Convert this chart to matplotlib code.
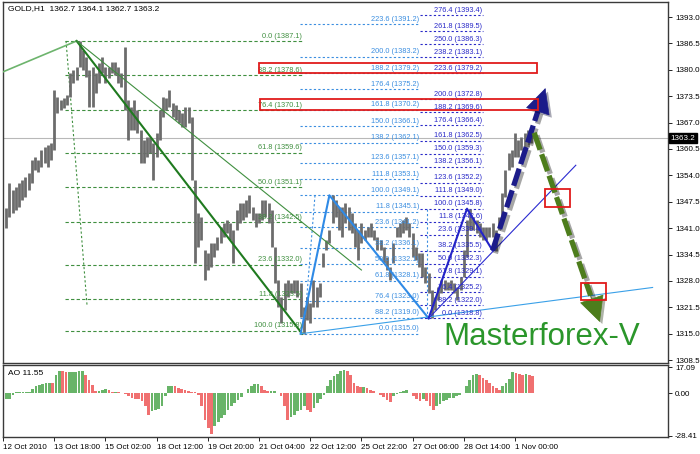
import matplotlib
matplotlib.use("Agg")
import matplotlib.pyplot as plt
import matplotlib.patheffects as pe
import matplotlib.transforms as mtransforms
from matplotlib.patches import Rectangle
import numpy as np

plt.rcParams["font.family"] = ["Liberation Sans", "DejaVu Sans"]

# GOLD H1 price bars (one entry per two hourly bars)
highs = [
    1346.0, 1352.1, 1350.4, 1351.1, 1352.1, 1352.9, 1353.6, 1354.6, 1357.8, 1358.5,
    1357.8, 1360.2, 1361.0, 1361.5, 1362.0, 1375.0, 1373.3, 1372.6, 1373.0, 1373.8,
    1379.2, 1379.9, 1380.7, 1387.1, 1384.9, 1383.1, 1379.9, 1380.7, 1379.2, 1381.7,
    1383.1, 1380.7, 1380.7, 1381.9, 1381.9, 1380.7, 1379.2, 1385.6, 1372.6, 1370.8,
    1372.6, 1370.1, 1365.2, 1362.7, 1363.4, 1363.4, 1362.0, 1364.4, 1370.1, 1373.3,
    1373.0, 1375.0, 1371.8, 1371.3, 1370.1, 1369.4, 1370.8, 1370.8, 1368.4, 1352.9,
    1344.7, 1343.8, 1335.6, 1334.9, 1337.3, 1337.3, 1338.8, 1341.3, 1342.3, 1343.0,
    1342.3, 1340.5, 1345.5, 1347.2, 1347.2, 1347.9, 1349.2, 1346.2, 1344.7, 1344.7,
    1347.9, 1347.9, 1347.2, 1345.5, 1336.4, 1328.2, 1324.0, 1327.5, 1328.2, 1327.5,
    1328.2, 1328.2, 1327.5, 1321.6, 1324.0, 1322.5, 1328.2, 1326.5, 1327.5, 1334.9,
    1338.1, 1340.5, 1349.1, 1347.9, 1346.2, 1346.2, 1347.2, 1346.2, 1344.7, 1342.3,
    1340.5, 1342.3, 1340.5, 1341.3, 1342.3, 1340.5, 1338.8, 1338.1, 1336.4, 1333.9,
    1331.4, 1337.3, 1341.3, 1342.3, 1343.0, 1343.8, 1342.3, 1339.8, 1336.4, 1334.9,
    1334.9, 1331.4, 1330.0, 1325.8, 1324.0, 1326.5, 1328.2, 1328.2, 1327.8, 1328.2,
    1327.5, 1326.5, 1328.9, 1335.6, 1343.0, 1345.8, 1343.8, 1343.0, 1342.3, 1341.3,
    1341.3, 1341.3, 1342.3, 1340.5, 1343.8, 1349.7, 1355.3, 1359.5, 1360.2, 1364.4,
    1362.7, 1363.4, 1364.4, 1365.2, 1364.4,
]
lows = [
    1341.0, 1343.8, 1344.7, 1345.5, 1346.2, 1347.9, 1348.7, 1350.4, 1352.1, 1355.3,
    1354.8, 1356.1, 1357.0, 1356.1, 1357.8, 1360.2, 1369.4, 1370.1, 1370.6, 1371.3,
    1373.3, 1376.8, 1377.5, 1380.7, 1379.9, 1378.2, 1370.8, 1370.8, 1374.3, 1376.8,
    1379.2, 1376.8, 1378.0, 1379.2, 1378.7, 1376.8, 1375.8, 1370.1, 1362.7, 1365.2,
    1365.2, 1364.4, 1357.0, 1357.0, 1358.5, 1359.5, 1352.9, 1358.5, 1362.7, 1368.4,
    1370.1, 1370.8, 1368.4, 1367.6, 1366.9, 1365.9, 1365.9, 1366.9, 1352.9, 1332.4,
    1336.4, 1338.1, 1328.2, 1330.7, 1331.4, 1333.9, 1335.6, 1337.3, 1338.8, 1339.8,
    1338.1, 1332.4, 1340.5, 1342.3, 1343.0, 1343.8, 1344.7, 1343.0, 1341.3, 1342.3,
    1343.0, 1343.8, 1342.3, 1336.4, 1327.5, 1321.6, 1317.6, 1320.8, 1324.0, 1325.0,
    1325.0, 1324.0, 1319.1, 1315.0, 1318.4, 1317.6, 1321.6, 1321.6, 1324.0, 1331.4,
    1335.6, 1337.3, 1342.3, 1343.8, 1340.5, 1338.8, 1342.3, 1340.5, 1339.8, 1336.4,
    1333.2, 1337.3, 1338.1, 1338.8, 1338.8, 1338.1, 1335.6, 1335.6, 1332.4, 1330.7,
    1328.2, 1332.4, 1338.8, 1338.8, 1339.8, 1340.5, 1338.8, 1333.9, 1333.2, 1331.4,
    1328.9, 1327.5, 1325.0, 1318.8, 1320.8, 1323.3, 1325.0, 1325.8, 1325.8, 1325.8,
    1325.0, 1323.3, 1325.8, 1328.9, 1333.9, 1340.5, 1340.5, 1339.8, 1338.8, 1338.1,
    1338.1, 1338.8, 1338.8, 1335.5, 1340.5, 1343.8, 1348.7, 1355.3, 1356.1, 1358.5,
    1358.5, 1360.2, 1360.7, 1361.0, 1362.0,
]
last_price = 1363.2

# Awesome Oscillator histogram
ao_values = [
    -4.0, -4.0, -4.0, -1.0, 0.5, 0.5, 0.7, 0.8, 1.0, 2.7,
    4.4, 5.6, 6.2, 6.7, 7.0, 6.5, 12.0, 15.0, 14.4, 13.8,
    13.8, 14.0, 14.2, 14.4, 15.0, 12.0, 9.0, 5.6, 1.1, 1.2,
    1.8, 2.7, 1.8, 0.9, 0.9, 0.7, 0.0, -0.4, -1.8, -3.3,
    -4.0, -4.2, -5.6, -8.9, -14.4, -12.2, -11.5, -10.7, -8.9, -2.2,
    4.4, 4.9, 4.4, 3.3, 2.7, 1.8, 1.1, 0.9, 0.7, -1.1,
    -8.9, -17.8, -23.3, -27.0, -22.0, -19.0, -16.7, -14.4, -11.1, -8.9,
    -6.7, -4.9, -2.7, 0.0, 2.7, 4.9, 6.2, 6.2, 4.4, 1.8,
    1.1, 1.6, 1.6, 0.0, -2.2, -8.9, -17.8, -16.0, -14.4, -12.2,
    -11.1, -8.9, -11.1, -12.9, -10.0, -6.7, -4.0, -1.1, 4.4, 8.9,
    11.1, 12.9, 14.4, 15.6, 14.4, 12.2, 6.7, 4.4, 4.0, 4.0,
    3.3, 2.2, 1.1, 0.0, -1.1, -2.7, -4.4, -6.2, -2.2, -0.4,
    0.4, 1.6, 2.2, 0.0, -1.8, -4.0, -5.6, -4.0, -5.6, -8.9,
    -11.1, -8.9, -7.1, -5.6, -4.4, -3.3, -3.0, -2.2, -1.1, 0.2,
    4.4, 8.9, 12.2, 12.9, 12.2, 10.0, 8.4, 6.7, 4.9, 3.3,
    2.2, 4.4, 6.7, 9.3, 13.8, 13.3, 12.9, 12.2, 12.9, 12.2,
    11.55,
]

date_labels = [
    "12 Oct 2010", "13 Oct 18:00", "15 Oct 02:00", "18 Oct 12:00", "19 Oct 20:00",
    "21 Oct 04:00", "22 Oct 12:00", "25 Oct 22:00", "27 Oct 06:00", "28 Oct 14:00",
    "1 Nov 00:00",
]
price_ticks = [1393.0, 1386.5, 1380.0, 1373.5, 1367.0, 1360.5, 1354.0, 1347.5,
               1341.0, 1334.5, 1328.0, 1321.5, 1315.0, 1308.5]
ao_ticks = [17.09, 0.0, -28.41]

# fibonacci retracements (level text, price)
fib_green_levels = ["0.0", "88.2", "76.4", "61.8", "50.0", "38.2", "23.6", "11.8", "100.0"]
fib_green_prices = [1387.1, 1378.6, 1370.1, 1359.6, 1351.1, 1342.5, 1332.0, 1323.5, 1315.8]

fib_light_levels = ["0.0", "88.2", "76.4", "61.8", "50.0", "38.2", "23.6", "11.8", "100.0",
                    "111.8", "123.6", "138.2", "150.0", "161.8", "176.4", "188.2", "200.0",
                    "223.6"]
fib_light_prices = [1315.0, 1319.0, 1323.0, 1328.1, 1332.1, 1336.1, 1341.2, 1345.1, 1349.1,
                    1353.1, 1357.1, 1362.1, 1366.1, 1370.2, 1375.2, 1379.2, 1383.2, 1391.2]

fib_dark_levels = ["0.0", "88.2", "76.4", "61.8", "50.0", "38.2", "23.6", "11.8", "100.0",
                   "111.8", "123.6", "138.2", "150.0", "161.8", "176.4", "188.2", "200.0",
                   "223.6", "238.2", "250.0", "261.8", "276.4"]
fib_dark_prices = [1318.8, 1322.0, 1325.2, 1329.1, 1332.3, 1335.5, 1339.4, 1342.6, 1345.8,
                   1349.0, 1352.2, 1356.1, 1359.3, 1362.5, 1366.4, 1369.6, 1372.8, 1379.2,
                   1383.1, 1386.3, 1389.5, 1393.4]

# wave drawings: (bar, price) anchors
green_wave_bars = [0, 46, 187]
green_wave_prices = [1379.5, 1387.1, 1315.0]
green_channel_bars = [46, 224]
green_channel_prices = [1387.1, 1330.7]
light_wave_bars = [186, 204, 266]
light_wave_prices = [1315.0, 1349.1, 1318.8]
light_trend_bars = [186, 406]
light_trend_prices = [1315.0, 1326.4]
dark_wave_bars = [266, 290, 306]
dark_wave_prices = [1318.8, 1345.8, 1335.5]
dark_trend_bars = [266, 358]
dark_trend_prices = [1318.8, 1356.5]
up_arrow_bars = [306, 339]
up_arrow_prices = [1335.5, 1375.5]
down_arrow_bars = [332, 373]
down_arrow_prices = [1364.5, 1317.9]

# red boxes: left bar, right bar, low, high
box_left = [160.0, 160.6, 338.8, 361.3]
box_right = [333.8, 334.4, 354.4, 376.9]
box_low = [1379.2, 1370.1, 1346.2, 1323.3]
box_high = [1381.8, 1372.8, 1350.6, 1327.5]

GREEN_FIB = "#3f8f3f"
LIGHT_FIB = "#3b8ee0"
DARK_FIB = "#2a2ac8"
FRAME = "#3a3a3a"
FS = 5.3

fig = plt.figure(figsize=(7.0, 4.54), dpi=100)
ax = fig.add_axes([3 / 700, 1 - 363 / 454, 665 / 700, 361 / 454])
ax_ao = fig.add_axes([3 / 700, 1 - 437 / 454, 665 / 700, 72 / 454], sharex=ax)

x_max = 665 / 1.6
ax.set_xlim(0, x_max)
ax.set_ylim(1307.8, 1396.7)
ax_ao.set_ylim(-29.3, 18.7)

for a in (ax, ax_ao):
    for side in a.spines.values():
        side.set_color(FRAME)
        side.set_linewidth(1.0)
    a.yaxis.tick_right()
    a.tick_params(axis="y", direction="out", length=3, width=0.6, pad=2,
                  labelsize=5.8, colors="black")

# price bars
bar_x = np.arange(len(highs)) * 2.0 + 2
ax.axhline(last_price, color="#b8b8b8", lw=0.8, zorder=1)
ax.vlines(bar_x, lows, highs, color="#6c6c6c", lw=2.0, zorder=3)

# fib levels with labels
def draw_fib(levels, prices, x0, x1, color, lstyle):
    for lvl, p in zip(levels, prices):
        ax.plot([x0, x1], [p, p], color=color, lw=0.8, ls=lstyle, zorder=2)
        ax.text(x1 - 0.5, p + 0.35, f"{lvl} ({p:.1f})", color=color, fontsize=FS,
                ha="right", va="bottom", zorder=6)


draw_fib(fib_green_levels, fib_green_prices, 38.75, 187.5, GREEN_FIB, (0, (3, 2)))
draw_fib(fib_light_levels, fib_light_prices, 185.6, 260.6, LIGHT_FIB, (0, (2, 2)))
draw_fib(fib_dark_levels, fib_dark_prices, 260.6, 300.0, DARK_FIB, (0, (2, 2)))

# fib anchor verticals
ax.plot([39.4, 52.5], [1387.1, 1322.1], color=GREEN_FIB, lw=0.8, ls=(0, (2, 2)), zorder=2)
ax.plot([195.0, 188.0], [1349.1, 1315.0], color=LIGHT_FIB, lw=0.8, ls=(0, (2, 2)), zorder=2)
ax.plot([265.0, 265.0], [1345.8, 1319.0], color=LIGHT_FIB, lw=0.8, ls=(0, (2, 2)), zorder=2)

# waves and trend lines
ax.plot(green_wave_bars[:2], green_wave_prices[:2], color="#6db46d", lw=1.2, zorder=4)
ax.plot(green_wave_bars[1:], green_wave_prices[1:], color="#1f7a1f", lw=1.5, zorder=4)
ax.plot(green_channel_bars, green_channel_prices, color="#3f8f3f", lw=0.8, zorder=4)
ax.plot(light_wave_bars, light_wave_prices, color="#2f8ae6", lw=1.5, zorder=4)
ax.plot(light_trend_bars, light_trend_prices, color="#3aa0e8", lw=0.8, zorder=4)
ax.plot(dark_wave_bars, dark_wave_prices, color="#2323c8", lw=1.5, zorder=4)
ax.plot(dark_trend_bars, dark_trend_prices, color="#2a2ad0", lw=0.8, zorder=4)


def dashed_arrow(bars, prices, color):
    x0, x1 = bars
    y0, y1 = prices
    shadow = [pe.SimpleLineShadow(offset=(2, -2), alpha=0.35), pe.Normal()]
    ax.plot([x0, x0 + 0.86 * (x1 - x0)], [y0, y0 + 0.86 * (y1 - y0)], color=color,
            lw=3.8, ls=(0, (3.4, 0.9)), solid_capstyle="butt", dash_capstyle="butt",
            zorder=7, path_effects=shadow)
    ann = ax.annotate("", xy=(x1, y1), xytext=(x0 + 0.8 * (x1 - x0), y0 + 0.8 * (y1 - y0)),
                      arrowprops=dict(arrowstyle="-|>,head_length=1.7,head_width=0.85",
                                      color=color, lw=0.5, shrinkA=0, shrinkB=0),
                      zorder=7)
    ann.arrow_patch.set_path_effects([pe.withSimplePatchShadow(offset=(2, -2), alpha=0.35)])


dashed_arrow(up_arrow_bars, up_arrow_prices, "#1c1c8a")
dashed_arrow(down_arrow_bars, down_arrow_prices, "#4d7d1c")

for x0, x1, lo, hi in zip(box_left, box_right, box_low, box_high):
    ax.add_patch(Rectangle((x0, lo), x1 - x0, hi - lo, fill=False, ec="#e01b1b",
                           lw=1.3, zorder=8))

ax.text(275, 1312.3, "Masterforex-V", fontsize=22.5, color="#2b962b", ha="left",
        va="baseline", zorder=9)

ax.text(0.008, 0.992, "GOLD,H1  1362.7 1364.1 1362.7 1363.2", transform=ax.transAxes,
        fontsize=6, va="top", ha="left")
ax.set_yticks(price_ticks)
ax.set_yticklabels([f"{p:.1f}" for p in price_ticks])
ax.tick_params(axis="x", bottom=False, labelbottom=False)
trans = mtransforms.blended_transform_factory(ax.transAxes, ax.transData)
ax.text(1.004, last_price, f"{last_price:.1f}", transform=trans, fontsize=5.8,
        color="white", va="center", ha="left",
        bbox=dict(boxstyle="square,pad=0.15", fc="black", ec="black"))

# AO panel
ao = np.array(ao_values)
ao_x = np.linspace(0, 331, len(ao))
rising = np.concatenate([[True], ao[1:] >= ao[:-1]])
ao_colors = np.where(rising, "#68b468", "#f07070")
ax_ao.bar(ao_x, ao, width=1.7, color=ao_colors, linewidth=0)
ax_ao.set_yticks(ao_ticks)
ax_ao.set_yticklabels([f"{v:.2f}" for v in ao_ticks])
ax_ao.text(0.008, 0.93, f"AO {ao_values[-1]:.2f}", transform=ax_ao.transAxes,
           fontsize=6, va="top", ha="left")

ax_ao.set_xticks([32 * i for i in range(len(date_labels))])
ax_ao.set_xticklabels(date_labels, ha="left")
ax_ao.tick_params(axis="x", direction="out", length=3, width=0.6, pad=2, labelsize=5.8)
ax_ao.set_xlim(0, x_max)

fig.savefig("out.png", dpi=100, facecolor="white")
